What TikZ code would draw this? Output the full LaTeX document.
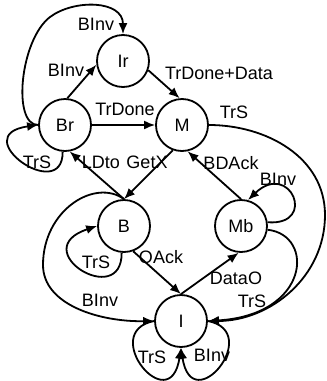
\documentclass[tikz,border=0pt]{standalone}
\usepackage{fontspec}
\setmainfont{Liberation Sans}
\usetikzlibrary{arrows.meta}
\begin{document}
\begin{tikzpicture}[x=1pt,y=-1pt,
  state/.style={circle,draw,line width=1.8pt,minimum size=52pt,inner sep=0pt,
    font=\fontsize{18}{20}\selectfont},
  lbl/.style={inner sep=0pt,font=\fontsize{18}{20}\selectfont},
  edge/.style={line width=1.8pt,-{Latex[length=11pt,width=9pt]}},
]
\useasboundingbox (0,0) rectangle (327,381);

% states
\node[state] (Ir) at (123,61)  {Ir};
\node[state] (Br) at (65,125)  {Br};
\node[state] (M)  at (182,125) {M};
\node[state] (B)  at (124,226) {B};
\node[state] (Mb) at (241,226) {Mb};
\node[state] (I)  at (181,321) {I};

% transitions among the upper states
\draw[edge] (Br.85) -- (Ir.188);
\draw[edge] (Br.west) .. controls (12,125) and (20,40) .. (50,17)
                      .. controls (74,-1) and (123,0) .. (Ir.north);
\draw[edge] (Br.east) -- (M.west);
\draw[edge] (Ir.-20) -- (M.95);
\draw[edge] (Br.-95) .. controls (63,205) and (-35,135) .. (Br.west);

% transitions between the middle and lower rows
\draw[edge] (M.-110) -- (B.north);
\draw[edge] (B.north) -- (Br.-80);
\draw[edge] (Mb.north) -- (M.-78);
\draw[edge] (B.-70) -- (I.north);
\draw[edge] (I.north) -- (Mb.-95);
\draw[edge] (B.-95) .. controls (122,310) and (25,250) .. (B.west);
\draw[edge] (Mb.8) .. controls (318,226) and (290,160) .. (Mb.75);
\draw[edge] (B.north) .. controls (95,178) and (43,210) .. (43,265)
                      .. controls (43,305) and (100,322) .. (I.west);
\draw[edge] (M.east) .. controls (266,125) and (325,157) .. (325,215)
                     .. controls (325,277) and (270,321) .. (I.east);
\draw[edge] (Mb.-8) .. controls (315,235) and (310,315) .. (I.east);

% self loops on I
\draw[edge] (I.west) .. controls (98,332) and (170,420) .. (I.south);
\draw[edge] (I.east) .. controls (264,332) and (192,420) .. (I.south);

% labels
\node[lbl] (l1)  at (96,24)   {BInv};
\node[lbl] (l2)  at (66,70)   {BInv};
\node[lbl] (l3)  at (125,109) {TrDone};
\node[lbl] (l4)  at (219,73)  {TrDone+Data};
\node[lbl] (l5)  at (234,112) {TrS};
\node[lbl] (l6)  at (37,162)  {TrS};
\node[lbl] (l7)  at (101,162) {LDto};
\node[lbl] (l8)  at (147,162) {GetX};
\node[lbl] (l9)  at (231,163) {BDAck};
\node[lbl] (l10) at (278,179) {BInv};
\node[lbl] (l11) at (96,262)  {TrS};
\node[lbl] (l12) at (161,257) {OAck};
\node[lbl] (l13) at (236,278) {DataO};
\node[lbl] (l14) at (100,300) {BInv};
\node[lbl] (l15) at (252,301) {TrS};
\node[lbl] (l16) at (152,357) {TrS};
\node[lbl] (l17) at (212,355) {BInv};
\end{tikzpicture}
\end{document}
